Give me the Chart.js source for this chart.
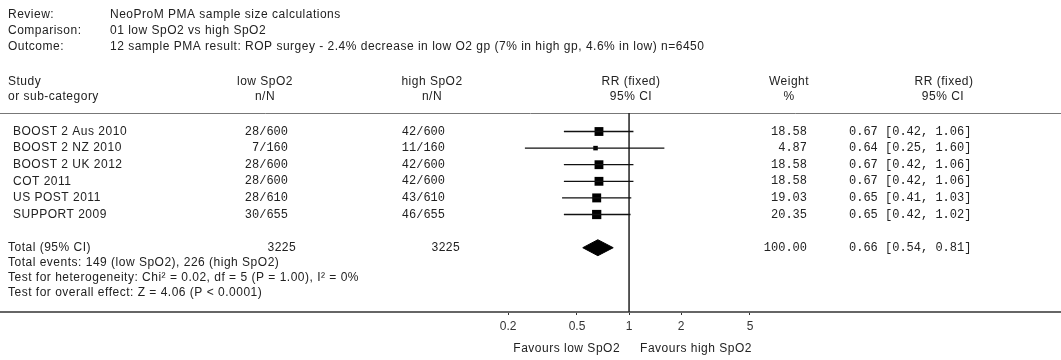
<!DOCTYPE html>
<html>
<head>
<meta charset="utf-8">
<script src="https://cdn.jsdelivr.net/npm/chart.js@4/dist/chart.umd.min.js"></script>
<style>
  html, body { margin: 0; padding: 0; background: #fff; }
  canvas { display: block; }
</style>
</head>
<body>
<canvas id="forest" width="1061" height="360"></canvas>
<script>
// study rows
const studies = ['BOOST 2 Aus 2010', 'BOOST 2 NZ 2010', 'BOOST 2 UK 2012', 'COT 2011', 'US POST 2011', 'SUPPORT 2009'];
const lowEvents = [28, 7, 28, 28, 28, 30];
const lowTotals = [600, 160, 600, 600, 610, 655];
const highEvents = [42, 11, 42, 42, 43, 46];
const highTotals = [600, 160, 600, 600, 610, 655];
const weights = [18.58, 4.87, 18.58, 18.58, 19.03, 20.35];
const rr = [0.67, 0.64, 0.67, 0.67, 0.65, 0.65];
const rrLow = [0.42, 0.25, 0.42, 0.42, 0.41, 0.42];
const rrHigh = [1.06, 1.60, 1.06, 1.06, 1.03, 1.02];

// pooled result: estimate, lower, upper
const totalRR = [0.66, 0.54, 0.81];
const totalN = [3225, 3225];
const totalWeight = 100;

const tickValues = [0.2, 0.5, 1, 2, 5];

const TOTAL_ROW = 7;

const sans = '12px "Liberation Sans", Arial, sans-serif';
const mono = '12px "Liberation Mono", "Courier New", monospace';

const ciText = (e, lo, hi) => `${e.toFixed(2)} [${lo.toFixed(2)}, ${hi.toFixed(2)}]`;

// CI whiskers, one small dataset per study
const whiskers = studies.map((s, i) => ({
    label: s,
    data: [{ x: rrLow[i], y: i }, { x: rrHigh[i], y: i }],
    showLine: true,
    borderColor: '#111',
    borderWidth: 1.3,
    pointRadius: 0
}));

const tablePlugin = {
    id: 'table',
    beforeDatasetsDraw(chart) {
        const { ctx } = chart;
        const y = chart.scales.y;
        ctx.save();
        ctx.strokeStyle = '#777';
        ctx.lineWidth = 1;
        const py = Math.round(y.getPixelForValue(-1.11)) + 0.5;
        ctx.beginPath();
        ctx.moveTo(0, py);
        ctx.lineTo(chart.width, py);
        ctx.stroke();
        ctx.restore();
    },
    afterDraw(chart) {
        const { ctx } = chart;
        const y = chart.scales.y;
        const x = chart.scales.x;
        ctx.save();
        ctx.fillStyle = '#222';
        ctx.textBaseline = 'middle';
        const put = (t, px, py, font, align) => {
            ctx.font = font;
            ctx.letterSpacing = font === sans ? '0.5px' : '0px';
            ctx.textAlign = align || 'left';
            ctx.fillText(t, px, py);
        };

        // heading block
        put('Review:', 8, 15, sans);
        put('NeoProM PMA sample size calculations', 110, 15, sans);
        put('Comparison:', 8, 31, sans);
        put('01 low SpO2 vs high SpO2', 110, 31, sans);
        put('Outcome:', 8, 47, sans);
        put('12 sample PMA result: ROP surgey - 2.4% decrease in low O2 gp (7% in high gp, 4.6% in low) n=6450', 110, 47, sans);

        // column headers
        const h1 = 82, h2 = 97;
        put('Study', 8, h1, sans);
        put('or sub-category', 8, h2, sans);
        put('low SpO2', 265, h1, sans, 'center');
        put('n/N', 265, h2, sans, 'center');
        put('high SpO2', 432, h1, sans, 'center');
        put('n/N', 432, h2, sans, 'center');
        put('RR (fixed)', 631, h1, sans, 'center');
        put('95% CI', 631, h2, sans, 'center');
        put('Weight', 789, h1, sans, 'center');
        put('%', 789, h2, sans, 'center');
        put('RR (fixed)', 944, h1, sans, 'center');
        put('95% CI', 943, h2, sans, 'center');

        // study rows
        studies.forEach((s, i) => {
            const py = y.getPixelForValue(i);
            put(s, 13, py, sans);
            put(`${lowEvents[i]}/${lowTotals[i]}`, 288, py, mono, 'right');
            put(`${highEvents[i]}/${highTotals[i]}`, 445, py, mono, 'right');
            put(weights[i].toFixed(2), 807, py, mono, 'right');
            put(ciText(rr[i], rrLow[i], rrHigh[i]), 849, py, mono);
        });

        // pooled row
        const ty = y.getPixelForValue(TOTAL_ROW);
        put('Total (95% CI)', 8, ty, sans);
        put(String(totalN[0]), 296, ty, mono, 'right');
        put(String(totalN[1]), 460, ty, mono, 'right');
        put(totalWeight.toFixed(2), 807, ty, mono, 'right');
        put(ciText(totalRR[0], totalRR[1], totalRR[2]), 849, ty, mono);

        put('Total events: 149 (low SpO2), 226 (high SpO2)', 8, ty + 14.5, sans);
        put('Test for heterogeneity: Chi\u00b2 = 0.02, df = 5 (P = 1.00), I\u00b2 = 0%', 8, ty + 29.5, sans);
        put('Test for overall effect: Z = 4.06 (P < 0.0001)', 8, ty + 45, sans);

        // favours labels either side of the no-effect line
        const one = x.getPixelForValue(1);
        put('Favours low SpO2', one - 9, 349, sans, 'right');
        put('Favours high SpO2', one + 11, 349, sans);
        ctx.restore();
    }
};

new Chart(document.getElementById('forest'), {
    type: 'scatter',
    data: {
        datasets: [
            ...whiskers,
            {
                label: 'RR',
                data: rr.map((v, i) => ({ x: v, y: i })),
                pointStyle: 'rect',
                pointRadius: (c) => 1.45 * Math.sqrt(weights[c.dataIndex] || 1),
                backgroundColor: '#000',
                borderWidth: 0
            },
            {
                label: 'Total',
                data: [
                    { x: totalRR[1], y: TOTAL_ROW },
                    { x: totalRR[0], y: TOTAL_ROW - 0.48 },
                    { x: totalRR[2], y: TOTAL_ROW },
                    { x: totalRR[0], y: TOTAL_ROW + 0.48 },
                    { x: totalRR[1], y: TOTAL_ROW }
                ],
                showLine: true,
                fill: 'shape',
                backgroundColor: '#000',
                borderColor: '#000',
                borderWidth: 1,
                pointRadius: 0
            },
            {
                label: 'no effect',
                data: [{ x: 1, y: -1.11 }, { x: 1, y: 11 }],
                showLine: true,
                borderColor: '#222',
                borderWidth: 1.5,
                pointRadius: 0
            }
        ]
    },
    options: {
        responsive: false,
        animation: false,
        layout: { padding: 0, autoPadding: false },
        plugins: {
            legend: { display: false },
            tooltip: { enabled: false }
        },
        scales: {
            x: {
                type: 'logarithmic',
                min: 2.31e-4,
                max: 314,
                afterBuildTicks: (axis) => { axis.ticks = tickValues.map(v => ({ value: v })); },
                afterFit: (axis) => { axis.height = 48; },
                ticks: {
                    autoSkip: false,
                    maxRotation: 0,
                    padding: 4,
                    color: '#333',
                    font: { family: '"Liberation Sans", Arial, sans-serif', size: 12 },
                    callback: (v) => String(v)
                },
                grid: { drawOnChartArea: false, drawTicks: true, tickLength: 3, color: '#333' },
                border: { display: true, color: '#666', width: 2 }
            },
            y: {
                type: 'linear',
                display: false,
                reverse: true,
                min: -7.922,
                max: 10.873
            }
        }
    },
    plugins: [tablePlugin]
});
</script>
</body>
</html>
